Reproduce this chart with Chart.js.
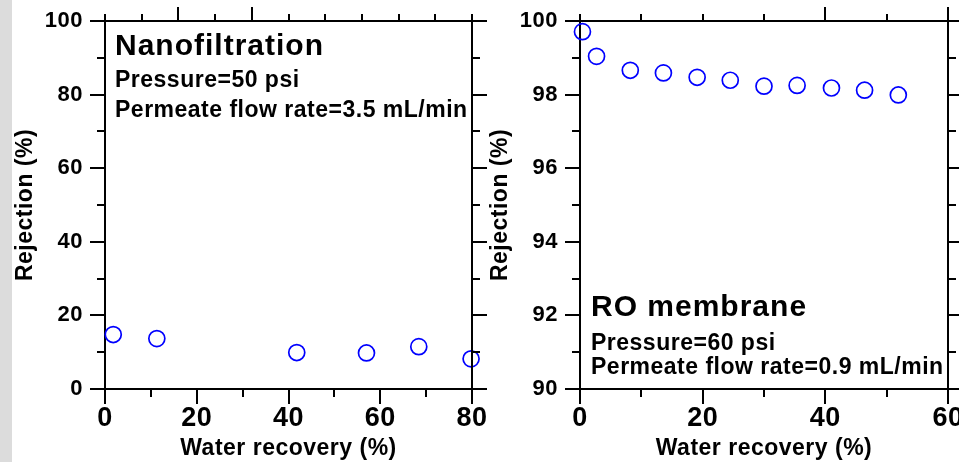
<!DOCTYPE html>
<html lang="en">
<head>
<meta charset="UTF-8">
<title>Rejection vs water recovery</title>
<script src="https://cdn.jsdelivr.net/npm/chart.js"></script>
<style>
  body { margin: 0; background: #fff; }
  .wrap { position: relative; width: 959px; height: 462px; overflow: hidden; }
  .strip { position: absolute; left: 0; top: 0; width: 12px; height: 462px; background: #dcdcdc; }
  canvas { position: absolute; left: 0; top: 0; }
</style>
</head>
<body>
<div class="wrap">
  <div class="strip"></div>
  <canvas id="nfChart" width="959" height="462"></canvas>
  <canvas id="roChart" width="959" height="462"></canvas>
</div>
<script>
// nanofiltration run
const nfRecovery = [1.8, 11.3, 41.8, 57.0, 68.4, 79.8];
const nfRejection = [14.8, 13.7, 9.9, 9.8, 11.5, 8.2];
const nfNotes = ['Nanofiltration', 'Pressure=50 psi', 'Permeate flow rate=3.5 mL/min'];

// RO membrane run
const roRecovery = [0.4, 2.7, 8.2, 13.6, 19.1, 24.5, 30.0, 35.4, 41.0, 46.4, 51.9];
const roRejection = [99.71, 99.04, 98.66, 98.59, 98.47, 98.39, 98.23, 98.25, 98.18, 98.12, 97.99];
const roNotes = ['RO membrane', 'Pressure=60 psi', 'Permeate flow rate=0.9 mL/min'];

// minor and mirrored tick positions
const nfMinorX = [10, 30, 50, 70];
const nfMinorY = [10, 30, 50, 70, 90];
const nfTopX = [0, 8, 16, 24, 32, 40, 48, 56, 64, 72, 80];
const nfTopMajor = [16, 32];
const nfRightY = [0, 10, 20, 30, 40, 50, 60, 70, 80, 90, 100];
const nfRightMajor = [0, 20, 40, 60, 80, 100];

const roMinorX = [10, 30, 50];
const roMinorY = [91, 93, 95, 97, 99];
const roTopX = [0, 10, 20, 30, 40, 50, 60];
const roTopMajor = [40, 60];
const roRightY = [90, 91, 92, 93, 94, 95, 96, 97, 98, 99, 100];
const roRightMajor = [90, 92, 94, 96, 98, 100];

const FONT = '"Liberation Sans", Arial, Helvetica, sans-serif';

// widen the lettering slightly
const spacing = {
  id: 'spacing',
  beforeUpdate(chart) { chart.ctx.letterSpacing = '0.5px'; },
  beforeDraw(chart) { chart.ctx.letterSpacing = '0.5px'; }
};

// closes the box, adds minor / mirrored ticks and writes the notes
const frame = {
  id: 'frame',
  afterDraw(chart, args, o) {
    const { ctx, chartArea: a, scales: { x, y } } = chart;
    const px = v => Math.round(x.getPixelForValue(v));
    const py = v => Math.round(y.getPixelForValue(v));
    ctx.save();
    ctx.strokeStyle = '#000';
    ctx.lineWidth = 2;
    ctx.lineCap = 'square';
    ctx.beginPath();
    ctx.moveTo(a.left, a.top);
    ctx.lineTo(a.right, a.top);
    ctx.lineTo(a.right, a.bottom);
    ctx.stroke();
    ctx.lineCap = 'butt';
    ctx.beginPath();
    o.minorX.forEach(v => { ctx.moveTo(px(v), a.bottom); ctx.lineTo(px(v), a.bottom + 8); });
    o.minorY.forEach(v => { ctx.moveTo(a.left, py(v)); ctx.lineTo(a.left - 8, py(v)); });
    o.topX.forEach(v => {
      const len = o.topMajor.includes(v) ? 14 : 7;
      ctx.moveTo(px(v), a.top); ctx.lineTo(px(v), a.top - len);
    });
    o.rightY.forEach(v => {
      const len = o.rightMajor.includes(v) ? 15 : 8;
      ctx.moveTo(a.right, py(v)); ctx.lineTo(a.right + len, py(v));
    });
    ctx.stroke();

    ctx.fillStyle = '#000';
    ctx.textAlign = 'left';
    ctx.textBaseline = 'alphabetic';
    const base = o.fromTop ? a.top : a.bottom;
    o.notes.forEach((t, i) => {
      ctx.font = i === 0 ? `bold 30px ${FONT}` : `bold 23px ${FONT}`;
      ctx.letterSpacing = i === 0 ? '1px' : '0.5px';
      ctx.fillText(t, a.left + o.noteX, base + o.noteY[i]);
    });
    ctx.restore();
  }
};

function xAxis(min, max, step) {
  return {
    type: 'linear', position: 'bottom', min, max,
    ticks: {
      stepSize: step, padding: 1, color: '#000', maxRotation: 0, autoSkip: false,
      font: { family: FONT, size: 27, weight: 'bold', lineHeight: 1 }
    },
    grid: { drawOnChartArea: false, drawTicks: true, tickLength: 15, tickWidth: 2, tickColor: '#000', color: '#000', lineWidth: 2 },
    border: { display: true, color: '#000', width: 2 },
    title: {
      display: true, text: 'Water recovery (%)', color: '#000',
      font: { family: FONT, size: 23, weight: 'bold' }, padding: { top: 0, bottom: 0 }
    },
    afterFit(s) { s.height = 73; s.paddingLeft = 0; s.paddingRight = 0; }
  };
}

function yAxis(min, max, step, width, titlePad) {
  return {
    type: 'linear', position: 'left', min, max,
    ticks: {
      stepSize: step, padding: 7, color: '#000',
      font: { family: FONT, size: 22, weight: 'bold', lineHeight: 1 }
    },
    grid: { drawOnChartArea: false, drawTicks: true, tickLength: 15, tickWidth: 2, tickColor: '#000', color: '#000', lineWidth: 2 },
    border: { display: true, color: '#000', width: 2 },
    title: {
      display: true, text: 'Rejection (%)', color: '#000',
      font: { family: FONT, size: 23, weight: 'bold' }, padding: { top: titlePad, bottom: 0 }
    },
    afterFit(s) { s.width = width; s.paddingTop = 0; s.paddingBottom = 0; }
  };
}

function points(xs, ys) {
  return {
    data: xs.map((v, i) => ({ x: v, y: ys[i] })),
    pointStyle: 'circle',
    pointRadius: 8,
    pointBorderWidth: 1.7,
    pointBorderColor: '#0000ff',
    pointBackgroundColor: 'rgba(0,0,0,0)',
    showLine: false,
    clip: false
  };
}

function makeChart(id, ds, padding, scales, frameOpts) {
  return new Chart(document.getElementById(id), {
    type: 'scatter',
    data: { datasets: [ds] },
    options: {
      responsive: false,
      animation: false,
      events: [],
      layout: { padding, autoPadding: false },
      plugins: { legend: { display: false }, tooltip: { enabled: false }, frame: frameOpts },
      scales
    },
    plugins: [spacing, frame]
  });
}

makeChart('nfChart', points(nfRecovery, nfRejection),
  { left: 0, top: 21, right: 487, bottom: 0 },
  { x: xAxis(0, 80, 20), y: yAxis(0, 100, 20, 105, 11.7) },
  {
    minorX: nfMinorX, minorY: nfMinorY, topX: nfTopX, topMajor: nfTopMajor,
    rightY: nfRightY, rightMajor: nfRightMajor,
    notes: nfNotes, fromTop: true, noteX: 10, noteY: [34, 66, 95.5]
  });

makeChart('roChart', points(roRecovery, roRejection),
  { left: 474, top: 21, right: 11, bottom: 0 },
  { x: xAxis(0, 60, 20), y: yAxis(90, 100, 2, 106, 13.2) },
  {
    minorX: roMinorX, minorY: roMinorY, topX: roTopX, topMajor: roTopMajor,
    rightY: roRightY, rightMajor: roRightMajor,
    notes: roNotes, fromTop: false, noteX: 11, noteY: [-72.6, -39.3, -15.3]
  });
</script>
</body>
</html>
